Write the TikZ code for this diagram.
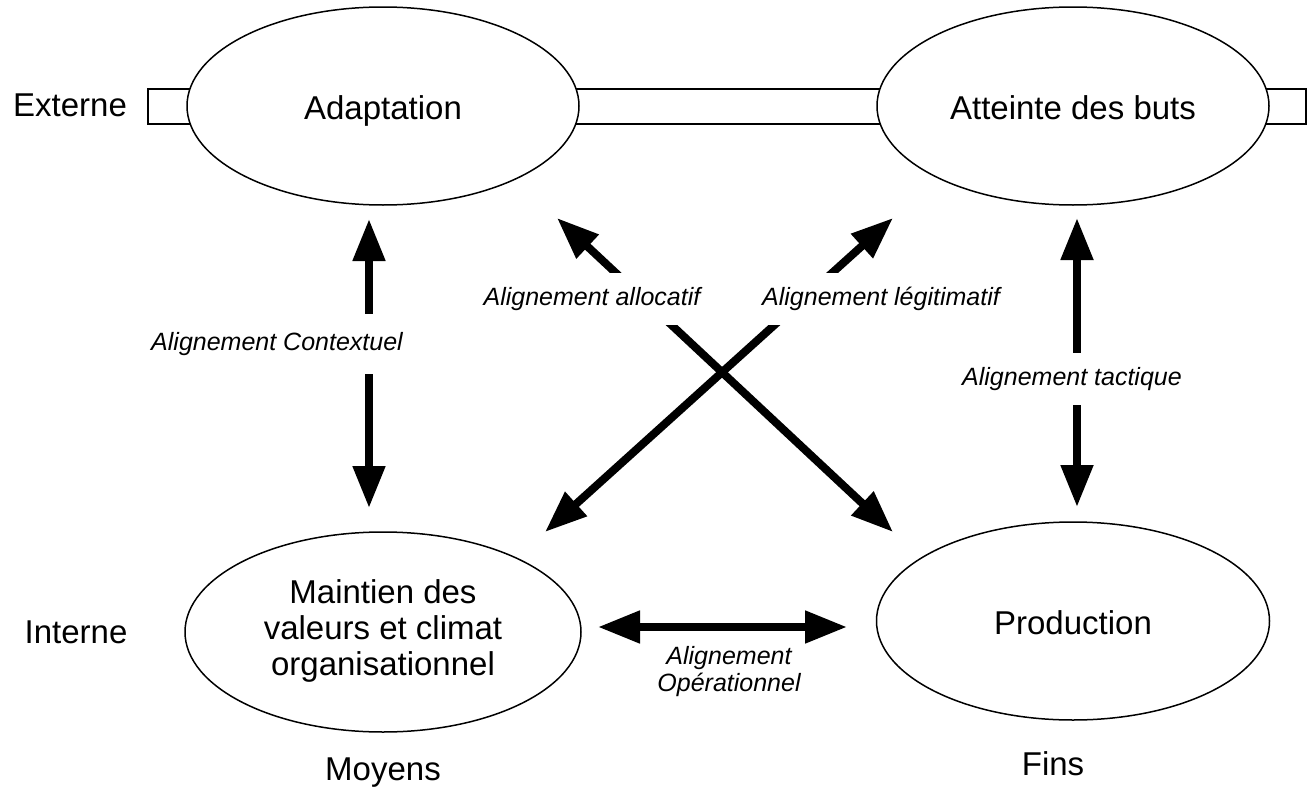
\documentclass[tikz,border=0pt]{standalone}
\usepackage{fontspec}
\setmainfont{Liberation Sans}
\usetikzlibrary{shapes.geometric,arrows.meta}
\begin{document}
\begin{tikzpicture}[x=1pt,y=-1pt,
  blob/.style={ellipse, draw, line width=1.5pt, fill=white, minimum width=392pt, minimum height=198pt, inner sep=0pt, align=center, font=\fontsize{33}{36}\selectfont},
  one/.style={text height=27pt, text depth=0pt},
  dbl/.style={line width=8pt, {Triangle[length=42pt,width=31pt]}-{Triangle[length=42pt,width=31pt]}},
  lab/.style={font=\fontsize{25}{27}\selectfont\itshape, fill=white, inner xsep=4pt, inner ysep=14pt, text height=18pt, text depth=6pt},
  side/.style={font=\fontsize{33}{36}\selectfont}]
\useasboundingbox (0,0) rectangle (1307,787);
% bar
\node[draw, line width=1.5pt, fill=white, rectangle, minimum width=1158pt, minimum height=35pt, inner sep=0pt, anchor=west] (bar) at (147,106.5) {};
\draw[line width=4pt] (bar.north east) -- (bar.south east);
% ellipses
\node[blob, one] (adapt) at (383,106) {Adaptation};
\node[blob, one] (goal) at (1073,106) {Atteinte des buts};
\node[blob, minimum width=396pt, minimum height=200pt] (maint) at (383,632) {\raisebox{-3pt}{\begin{tabular}{@{}c@{}}Maintien des\\valeurs et climat\\organisationnel\end{tabular}}};
\node[blob, one, minimum width=393pt] (prod) at (1073,621) {Production};
% arrows
\draw[dbl] ([shift={(-14,113)}]adapt.center) -- ([shift={(-14,-124)}]maint.center);
\draw[dbl] ([shift={(4,112)}]goal.center) -- ([shift={(4,-114)}]prod.center);
\draw[dbl] ([shift={(174,112)}]adapt.center) -- ([shift={(-180,-89)}]prod.center);
\draw[dbl] ([shift={(-180,112)}]goal.center) -- ([shift={(162,-100)}]maint.center);
\draw[dbl] ([shift={(215,-5)}]maint.center) -- ([shift={(-226,6)}]prod.center);
% labels
\node[lab, inner ysep=18pt] (lctx) at (277,344) {Alignement Contextuel};
\node[lab] (lalloc) at (592,299) {Alignement allocatif};
\node[lab] (llegit) at (881,299) {Alignement légitimatif};
\node[lab] (ltact) at (1072,379) {Alignement tactique};
\node[font=\fontsize{25}{27}\selectfont\itshape, align=center] (lop) at (729,672) {Alignement\\Opérationnel};
% side labels
\node[side] (ext) at (70,105) {Externe};
\node[side] (int) at (76,632) {Interne};
\node[side] (moy) at (383,773) {Moyens};
\node[side] (fins) at (1053,764) {Fins};
\end{tikzpicture}
\end{document}
